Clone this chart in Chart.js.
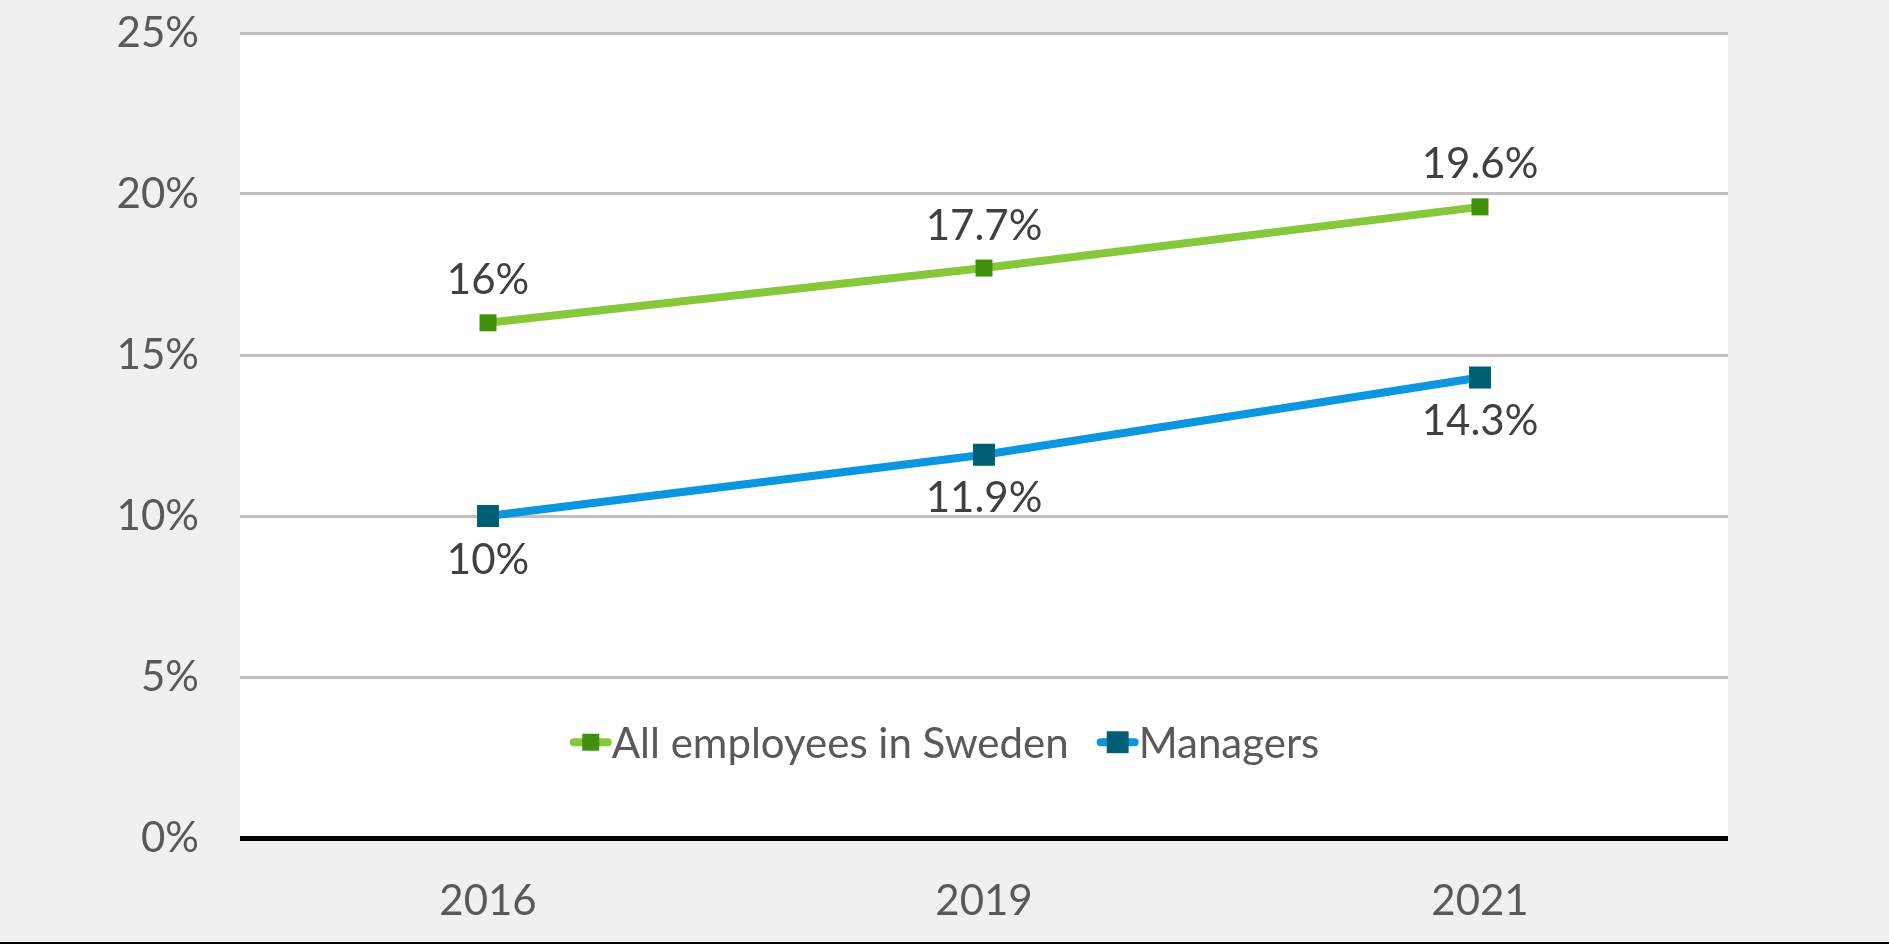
<!DOCTYPE html>
<html>
<head>
<meta charset="utf-8">
<script src="https://cdn.jsdelivr.net/npm/chart.js@4"></script>
<style>
    html, body { margin: 0; padding: 0; background: #f0f0f0; }
    #wrap { width: 1889px; height: 942px; border-bottom: 2px solid #000; }
</style>
</head>
<body>
<div id="wrap"><canvas id="chart" width="1889" height="942"></canvas></div>
<script>
const years = ['2016', '2019', '2021'];
const allEmployees = [16, 17.7, 19.6];
const managers = [10, 11.9, 14.3];
const seriesNames = ['All employees in Sweden', 'Managers'];

const FONT = 'Lato, "Noto Sans", sans-serif';

// white plot area on grey page
const plotBackground = {
    id: 'plotBackground',
    beforeDraw(chart) {
        const { ctx, chartArea: a } = chart;
        ctx.save();
        ctx.fillStyle = '#ffffff';
        ctx.fillRect(a.left, a.top, a.right - a.left, a.bottom - a.top);
        ctx.restore();
    }
};

// value labels: first series above, second below
const valueLabels = {
    id: 'valueLabels',
    afterDatasetsDraw(chart) {
        const ctx = chart.ctx;
        ctx.save();
        ctx.font = '42px ' + FONT;
        ctx.fillStyle = '#404040';
        ctx.textAlign = 'center';
        ctx.textBaseline = 'middle';
        chart.data.datasets.forEach((ds, i) => {
            const meta = chart.getDatasetMeta(i);
            meta.data.forEach((pt, j) => {
                const off = i === 0 ? -42 : 44;
                ctx.fillText(ds.data[j] + '%', pt.x, pt.y + off);
            });
        });
        ctx.restore();
    }
};

// legend drawn inside the plot, centred on the canvas
const innerLegend = {
    id: 'innerLegend',
    afterDraw(chart) {
        const { ctx, chartArea: a } = chart;
        const y = a.top + (a.bottom - a.top) * 0.881;
        const symW = 42, gap = 28;
        ctx.save();
        ctx.font = '42px ' + FONT;
        ctx.textBaseline = 'middle';
        const items = chart.data.datasets.map(ds => ({ ds, w: symW + ctx.measureText(ds.label).width }));
        const total = items.reduce((s, it) => s + it.w, 0) + gap * (items.length - 1);
        let x = chart.width / 2 - total / 2;
        items.forEach(({ ds }) => {
            ctx.strokeStyle = ds.borderColor;
            ctx.lineWidth = ds.borderWidth;
            ctx.lineCap = 'round';
            ctx.beginPath();
            ctx.moveTo(x + 4, y);
            ctx.lineTo(x + symW - 4, y);
            ctx.stroke();
            const h = ds.pointRadius * Math.SQRT1_2;
            ctx.fillStyle = ds.pointBackgroundColor;
            ctx.fillRect(x + symW / 2 - h, y - h, h * 2, h * 2);
            ctx.fillStyle = '#595959';
            ctx.fillText(ds.label, x + symW, y + 2);
            x += symW + ctx.measureText(ds.label).width + gap;
        });
        ctx.restore();
    }
};

new Chart(document.getElementById('chart'), {
    type: 'line',
    data: {
        labels: years,
        datasets: [{
            label: seriesNames[0],
            data: allEmployees,
            borderColor: '#86c83a',
            borderWidth: 8,
            pointStyle: 'rect',
            pointRadius: 12,
            pointBackgroundColor: '#40900c',
            pointBorderWidth: 0,
            tension: 0
        }, {
            label: seriesNames[1],
            data: managers,
            borderColor: '#0b96e0',
            borderWidth: 8,
            pointStyle: 'rect',
            pointRadius: 15.5,
            pointBackgroundColor: '#005f73',
            pointBorderWidth: 0,
            tension: 0
        }]
    },
    options: {
        responsive: false,
        animation: false,
        layout: { padding: { top: 33, right: 161, left: 0, bottom: 0 } },
        plugins: {
            legend: { display: false },
            tooltip: { enabled: false }
        },
        scales: {
            x: {
                offset: true,
                grid: { display: false },
                border: { display: false },
                ticks: { color: '#595959', font: { family: FONT, size: 42 }, padding: 30 },
                afterFit: s => { s.height = 104; s.paddingLeft = 0; s.paddingRight = 0; }
            },
            y: {
                min: 0,
                max: 25,
                ticks: {
                    stepSize: 5,
                    color: '#595959',
                    font: { family: FONT, size: 42 },
                    padding: 41,
                    callback: v => v + '%'
                },
                grid: {
                    drawTicks: false,
                    color: c => c.tick.value === 0 ? '#000000' : '#bfbfbf',
                    lineWidth: c => c.tick.value === 0 ? 5 : 3
                },
                border: { display: false },
                afterFit: s => { s.width = 240; s.paddingTop = 0; s.paddingBottom = 0; }
            }
        }
    },
    plugins: [plotBackground, valueLabels, innerLegend]
});
</script>
</body>
</html>
